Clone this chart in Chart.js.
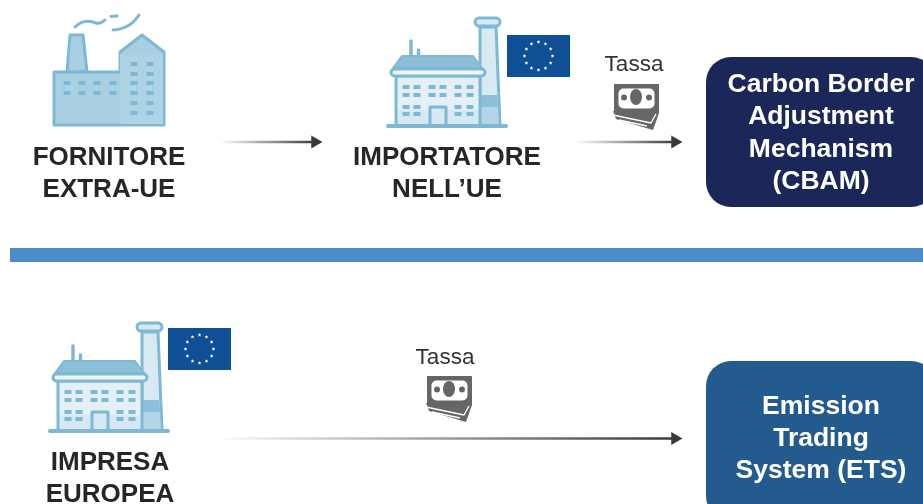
<!DOCTYPE html>
<html lang="it">
<head>
    <meta charset="UTF-8">
    <title>CBAM ed ETS</title>
    <script src="https://cdn.jsdelivr.net/npm/chart.js"></script>
    <style>
        html, body { margin: 0; padding: 0; background: #fff; overflow: hidden; }
        canvas { display: block; filter: blur(0.4px); }
    </style>
</head>
<body>
    <canvas id="schema" width="923" height="504"></canvas>

    <script>
        // Testi dello schema
        const taxLabel = 'Tassa';
        const supplierLines = ['FORNITORE', 'EXTRA-UE'];
        const importerLines = ['IMPORTATORE', 'NELL\u2019UE'];
        const companyLines = ['IMPRESA', 'EUROPEA'];
        const cbamLines = ['Carbon Border', 'Adjustment', 'Mechanism', '(CBAM)'];
        const etsLines = ['Emission', 'Trading', 'System (ETS)'];

        // Frecce e separatore, in unita degli assi (0-923 / 0-504)
        const arrowOneX = [222, 315];
        const arrowTwoX = [578, 675];
        const arrowThreeX = [222, 675];
        const upperArrowY = [142, 142];
        const lowerArrowY = [438.5, 438.5];
        const dividerX = [10, 923];
        const dividerY = [255, 255];

        const INK = '#262626';
        const LINE = '#7db9d4';
        const FILL = '#a9d0e2';
        const PALE = '#e4f0f6';
        const GREY = '#666666';

        // Sfumatura bianco -> grigio scuro delle frecce
        function arrowColor(context) {
            const chart = context.chart;
            if (!chart.chartArea) return '#3a3a3a';
            const pts = context.dataset.data;
            const sx = chart.scales.x;
            const g = chart.ctx.createLinearGradient(sx.getPixelForValue(pts[0].x), 0, sx.getPixelForValue(pts[1].x), 0);
            g.addColorStop(0, 'rgba(60,60,60,0.03)');
            g.addColorStop(1, '#3a3a3a');
            return g;
        }

        function arrow(xs, ys) {
            return {
                data: xs.map((x, i) => ({ x: x, y: ys[i] })),
                showLine: true,
                borderWidth: 2.5,
                borderColor: arrowColor,
                pointRadius: [0, 7.5],
                pointStyle: 'triangle',
                pointRotation: 90,
                pointBackgroundColor: '#3a3a3a',
                pointBorderWidth: 0
            };
        }

        const divider = {
            data: dividerX.map((x, i) => ({ x: x, y: dividerY[i] })),
            showLine: true,
            borderWidth: 14,
            borderColor: '#4b8cc7',
            borderCapStyle: 'butt',
            pointRadius: 0
        };

        // Piccoli aiuti di disegno, sempre passando dalle scale
        function helpers(chart) {
            const ctx = chart.ctx;
            const X = v => chart.scales.x.getPixelForValue(v);
            const Y = v => chart.scales.y.getPixelForValue(v);
            function poly(points, fill, stroke, w) {
                ctx.beginPath();
                points.forEach((p, i) => i ? ctx.lineTo(X(p[0]), Y(p[1])) : ctx.moveTo(X(p[0]), Y(p[1])));
                ctx.closePath();
                if (fill) { ctx.fillStyle = fill; ctx.fill(); }
                if (stroke) { ctx.strokeStyle = stroke; ctx.lineWidth = w; ctx.lineJoin = 'round'; ctx.stroke(); }
            }
            function rect(x, y, w, h, fill) {
                ctx.fillStyle = fill;
                ctx.fillRect(X(x), Y(y), X(x + w) - X(x), Y(y + h) - Y(y));
            }
            function round(x, y, w, h, r, fill, stroke, lw) {
                ctx.beginPath();
                ctx.roundRect(X(x), Y(y), X(x + w) - X(x), Y(y + h) - Y(y), r);
                if (fill) { ctx.fillStyle = fill; ctx.fill(); }
                if (stroke) { ctx.strokeStyle = stroke; ctx.lineWidth = lw; ctx.stroke(); }
            }
            function text(lines, cx, first, step, font, color) {
                ctx.font = font;
                ctx.fillStyle = color;
                ctx.textAlign = 'center';
                ctx.textBaseline = 'alphabetic';
                lines.forEach((t, i) => ctx.fillText(t, X(cx), Y(first + i * step)));
            }
            return { ctx, X, Y, poly, rect, round, text };
        }

        function oldFactory(h) {
            const { ctx, X, Y } = h;
            // ciminiera
            h.poly([[70, 35], [83, 35], [87, 72], [67, 72]], FILL, LINE, 3);
            // corpo
            h.poly([[54, 72], [120, 72], [120, 52], [142, 35], [164, 52], [164, 125], [54, 125]], FILL, LINE, 3);
            h.rect(120, 54, 43, 70, '#add3e4');
            // finestre
            [67, 82, 97, 113].forEach(x => [83, 93].forEach(y => h.rect(x - 3.5, y - 2, 7, 4, LINE)));
            [134, 150].forEach(x => [64, 74, 83, 93, 103, 113].forEach(y => h.rect(x - 3.5, y - 2, 7, 4, LINE)));
            // fumo
            ctx.strokeStyle = LINE;
            ctx.lineWidth = 3;
            ctx.lineCap = 'round';
            ctx.beginPath();
            ctx.moveTo(X(75), Y(27));
            ctx.quadraticCurveTo(X(84), Y(18), X(96), Y(23));
            ctx.quadraticCurveTo(X(101), Y(24), X(105), Y(20));
            ctx.moveTo(X(111), Y(16.5));
            ctx.lineTo(X(117), Y(16));
            ctx.moveTo(X(113), Y(30));
            ctx.quadraticCurveTo(X(130), Y(29), X(139), Y(15));
            ctx.stroke();
            ctx.lineCap = 'butt';
        }

        // ox, oy: spostamento dal disegno dell'importatore
        function newFactory(h, ox, oy) {
            const { ctx, X, Y } = h;
            const px = x => x + ox;
            const py = y => y + oy;
            // ciminiera
            h.poly([[px(480), py(27)], [px(496), py(27)], [px(500), py(125)], [px(480), py(125)]], '#d9e9f2', LINE, 3);
            h.poly([[px(481), py(95)], [px(497), py(95)], [px(498), py(107)], [px(481), py(107)]], '#8dbfd8');
            h.poly([[px(481), py(107)], [px(498), py(107)], [px(499), py(125)], [px(481), py(125)]], '#b3d5e5');
            h.round(px(475), py(18), 25, 8, 4, '#d9e9f2', LINE, 3);
            // tubi sul tetto
            ctx.strokeStyle = LINE;
            ctx.lineWidth = 3.5;
            ctx.lineCap = 'round';
            ctx.beginPath();
            ctx.moveTo(X(px(411)), Y(py(41)));
            ctx.lineTo(X(px(411)), Y(py(56)));
            ctx.moveTo(X(px(418.5)), Y(py(50)));
            ctx.lineTo(X(px(418.5)), Y(py(56)));
            ctx.stroke();
            ctx.lineCap = 'butt';
            // corpo
            h.rect(px(396), py(76), 84, 50, PALE);
            h.rect(px(396), py(110), 84, 16, '#d6e8f1');
            h.poly([[px(396), py(76)], [px(396), py(126)], [px(480), py(126)], [px(480), py(76)]], null, LINE, 3);
            // tetto
            h.poly([[px(393), py(68)], [px(402), py(56)], [px(473), py(56)], [px(482), py(68)]], '#8dbfd8', LINE, 2);
            h.round(px(391), py(69), 94, 7, 3.5, '#eef6fa', LINE, 3);
            // finestre
            [406, 417, 432, 443, 458, 470].forEach(x => [87, 95].forEach(y => h.rect(px(x) - 3.5, py(y) - 2, 7, 4, LINE)));
            [406, 417, 458, 470].forEach(x => [107, 114].forEach(y => h.rect(px(x) - 3.5, py(y) - 2, 7, 4, LINE)));
            // porta
            ctx.beginPath();
            ctx.moveTo(X(px(430)), Y(py(126)));
            ctx.lineTo(X(px(430)), Y(py(107)));
            ctx.lineTo(X(px(446)), Y(py(107)));
            ctx.lineTo(X(px(446)), Y(py(126)));
            ctx.fillStyle = '#d6e8f1';
            ctx.fill();
            ctx.lineWidth = 3;
            ctx.stroke();
            // terreno
            h.round(px(386), py(124), 122, 4, 2, LINE);
        }

        function flag(h, x, y) {
            const { ctx, X, Y } = h;
            h.rect(x, y, 63, 42, '#0f4f96');
            ctx.fillStyle = '#ffffff';
            for (let i = 0; i < 12; i++) {
                const a = i * Math.PI / 6;
                const cx = X(x + 31.5 + 14 * Math.sin(a));
                const cy = Y(y + 21 - 14 * Math.cos(a));
                ctx.beginPath();
                for (let k = 0; k < 10; k++) {
                    const r = k % 2 ? 0.9 : 2;
                    const b = k * Math.PI / 5;
                    ctx.lineTo(cx + r * Math.sin(b), cy - r * Math.cos(b));
                }
                ctx.closePath();
                ctx.fill();
            }
        }

        // x, y: angolo in alto a sinistra della banconota
        function money(h, x, y) {
            const { ctx, X, Y } = h;
            // mazzetta sotto
            h.poly([[x - 1, y + 27], [x + 45, y + 29], [x + 39, y + 46], [x + 32, y + 44], [x + 2, y + 35]], GREY);
            ctx.strokeStyle = '#ffffff';
            ctx.lineWidth = 1.3;
            ctx.beginPath();
            ctx.moveTo(X(x - 1), Y(y + 31));
            ctx.lineTo(X(x + 37), Y(y + 39));
            ctx.lineTo(X(x + 42), Y(y + 30));
            ctx.moveTo(X(x + 5), Y(y + 36));
            ctx.lineTo(X(x + 33), Y(y + 42));
            ctx.stroke();
            // banconota
            h.rect(x, y, 45, 29, GREY);
            h.round(x + 4.5, y + 4.5, 36, 20, 5, '#ffffff');
            ctx.fillStyle = GREY;
            [[x + 10, 3], [x + 35, 3]].forEach(d => {
                ctx.beginPath();
                ctx.arc(X(d[0]), Y(y + 13.5), d[1], 0, Math.PI * 2);
                ctx.fill();
            });
            ctx.beginPath();
            ctx.ellipse(X(x + 22), Y(y + 13), 6, 8, 0, 0, Math.PI * 2);
            ctx.fill();
        }

        const schemaPlugin = {
            id: 'schema',
            beforeDatasetsDraw(chart) {
                const h = helpers(chart);
                oldFactory(h);
                newFactory(h, 0, 0);
                newFactory(h, -338, 305);
                flag(h, 507, 35);
                flag(h, 168, 328);
                money(h, 614, 84);
                money(h, 427, 376);

                h.round(706, 57, 230, 150, 25, '#1c2759');
                h.round(706, 361, 230, 160, 25, '#245b8f');

                const bold = 'bold 26px "Liberation Sans"';
                const boxFont = 'bold 26.5px "Liberation Sans"';
                const light = '22.5px "Liberation Sans"';
                h.text(supplierLines, 109, 164.5, 32, bold, INK);
                h.text(importerLines, 447, 164.5, 32, bold, INK);
                h.text(companyLines, 110, 469.5, 32, bold, INK);
                h.text([taxLabel], 634, 71, 0, light, '#333333');
                h.text([taxLabel], 445, 364, 0, light, '#333333');
                h.text(cbamLines, 821, 92, 32.3, boxFont, '#ffffff');
                h.text(etsLines, 821, 414, 32, boxFont, '#ffffff');
            }
        };

        new Chart(document.getElementById('schema').getContext('2d'), {
            type: 'scatter',
            data: {
                datasets: [
                    divider,
                    arrow(arrowOneX, upperArrowY),
                    arrow(arrowTwoX, upperArrowY),
                    arrow(arrowThreeX, lowerArrowY)
                ]
            },
            options: {
                responsive: false,
                animation: false,
                clip: false,
                layout: { padding: 0, autoPadding: false },
                plugins: { legend: { display: false }, tooltip: { enabled: false } },
                scales: {
                    x: { type: 'linear', min: 0, max: 923, display: false },
                    y: { type: 'linear', min: 0, max: 504, reverse: true, display: false }
                }
            },
            plugins: [schemaPlugin]
        });
    </script>
</body>
</html>
